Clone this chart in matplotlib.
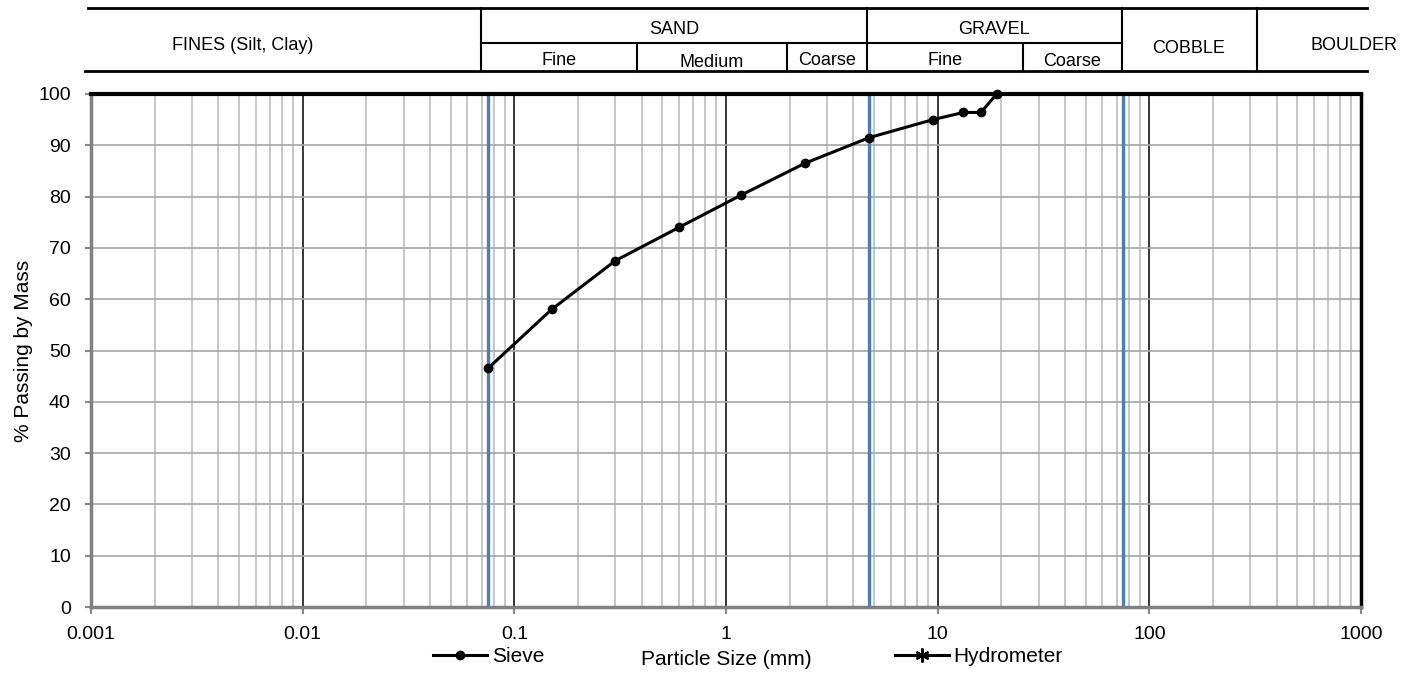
import matplotlib
matplotlib.use("Agg")
import matplotlib.pyplot as plt

plt.rcParams['font.family'] = ['Liberation Sans', 'DejaVu Sans']

# sieve data (mm, % passing)
sieve_size = [0.075, 0.15, 0.3, 0.6, 1.18, 2.36, 4.75, 9.5, 13.2, 16.0, 19.0]
sieve_pass = [46.5, 58.0, 67.5, 74.0, 80.3, 86.5, 91.5, 95.0, 96.4, 96.4, 100.0]
hydro_size = []
hydro_pass = []

# boundaries between fines / sand / gravel / cobble
bound_sizes = [0.075, 4.75, 75]

x_ticks = [0.001, 0.01, 0.1, 1, 10, 100, 1000]
x_labels = ["0.001", "0.01", "0.1", "1", "10", "100", "1000"]
y_ticks = list(range(0, 101, 10))

# header table, figure pixels: (text, x centre, baseline)
hdr_labels = [
    ("FINES (Silt, Clay)", 243, 50),
    ("SAND", 674, 34),
    ("Fine", 559, 65),
    ("Medium", 712, 67),
    ("Coarse", 827, 65),
    ("GRAVEL", 994, 34),
    ("Fine", 945, 65),
    ("Coarse", 1072, 66),
    ("COBBLE", 1189, 53),
    ("BOULDER", 1354, 50),
]
hdr_full_cols = [481, 867, 1122, 1257]
hdr_sub_cols = [637, 787, 1023]

W, H = 1402, 673
fig = plt.figure(figsize=(14.02, 6.73), dpi=100)

# header
hdr = fig.add_axes([0, 0, 1, 1])
hdr.set_xlim(0, W)
hdr.set_ylim(H, 0)
hdr.axis("off")
y_top, y_mid, y_bot = 7.5, 43, 71
hdr.plot([88, 1367], [y_top, y_top], color="black", lw=2)
hdr.plot([85, 1367], [y_bot, y_bot], color="black", lw=2)
hdr.plot([481, 1122], [y_mid, y_mid], color="black", lw=1.5)
for x in hdr_full_cols:
    hdr.plot([x, x], [y_top, y_bot], color="black", lw=1.5)
for x in hdr_sub_cols:
    hdr.plot([x, x], [y_mid, y_bot], color="black", lw=1.5)
for txt, xc, yb in hdr_labels:
    hdr.text(xc, yb, txt, ha="center", va="baseline", fontsize=13)

ax = fig.add_axes([91 / W, 1 - 607 / H, 1270 / W, 513 / H])
ax.set_xscale("log")
ax.set_xlim(0.001, 1000)
ax.set_ylim(0, 100)

ax.grid(True, which="minor", axis="x", color="#bdbdbd", lw=1.2)
ax.grid(True, which="major", axis="x", color="black", lw=1.1)
ax.grid(True, which="major", axis="y", color="#a6a6a6", lw=1.2)
ax.set_axisbelow(True)

for b in bound_sizes:
    ax.axvline(b, color="#4a7ebb", lw=2.4, zorder=2)

ax.plot(sieve_size, sieve_pass, color="black", lw=2.2, marker="o", ms=6,
        label="Sieve", zorder=4, clip_on=False)
ax.plot(hydro_size, hydro_pass, color="black", lw=2.2, marker=(6, 2, 0), ms=10,
        mew=1.6, label="Hydrometer")

ax.set_xticks(x_ticks)
ax.set_xticklabels(x_labels)
ax.set_yticks(y_ticks)
ax.tick_params(axis="x", which="major", labelsize=14, length=5, pad=8.5,
               color="#888888", width=1.5)
ax.tick_params(axis="y", which="major", labelsize=14, length=4.5, pad=10,
               color="#888888", width=1.5)
ax.tick_params(axis="x", which="minor", length=0)

ax.spines["top"].set_linewidth(3)
ax.spines["top"].set_color("black")
ax.spines["right"].set_linewidth(2.5)
ax.spines["right"].set_color("black")
ax.spines["left"].set_linewidth(2.5)
ax.spines["left"].set_color("#808080")
ax.spines["bottom"].set_linewidth(2.5)
ax.spines["bottom"].set_color("#808080")

ax.set_ylabel("% Passing by Mass", fontsize=15)
ax.yaxis.set_label_coords(-0.0457, 0.5)
ax.set_xlabel("Particle Size (mm)", fontsize=15)
ax.xaxis.set_label_coords(0.5, -0.084)

ax.legend(loc="center left", bbox_to_anchor=(433 / W, 1 - 657 / H),
          bbox_transform=fig.transFigure, ncol=2, frameon=False, fontsize=15,
          handlelength=2.6, handletextpad=0.24, columnspacing=16.8,
          borderpad=0, borderaxespad=0)

fig.savefig("out.png", dpi=100)
